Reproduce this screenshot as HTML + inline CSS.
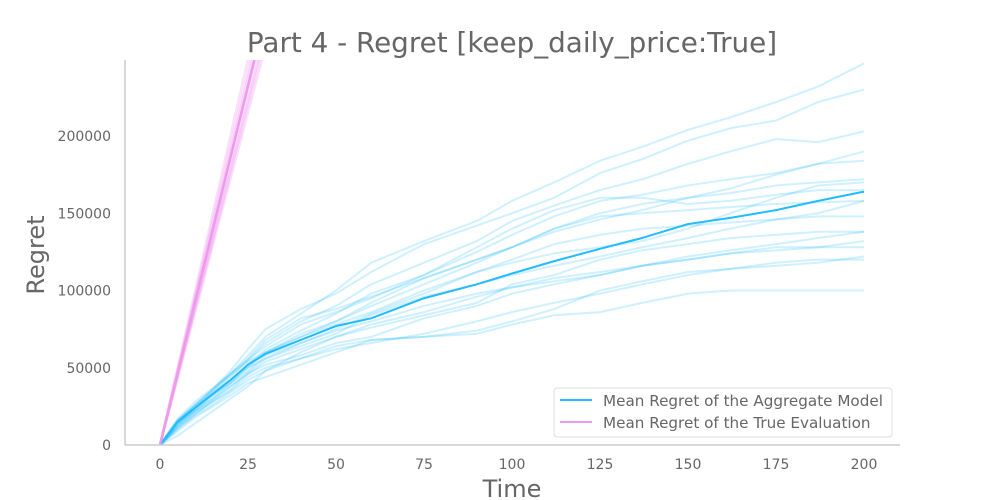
<!DOCTYPE html>
<html><head><meta charset="utf-8"><style>
body{margin:0;background:#fff;}
svg{display:block;font-family:"DejaVu Sans","Liberation Sans",sans-serif;}
</style></head><body>
<svg id="chart" width="1000" height="500">
<defs><clipPath id="clip"><rect x="125" y="60" width="775" height="385"/></clipPath></defs>
<text x="512" y="52" text-anchor="middle" font-size="27.8" fill="#666">Part 4 - Regret [keep_daily_price:True]</text>
<g id="plot" clip-path="url(#clip)"></g>
<line x1="125" y1="60" x2="125" y2="445" stroke="#ccc" stroke-width="1.5"/>
<line x1="125" y1="445" x2="900" y2="445" stroke="#ccc" stroke-width="1.5"/>
<g id="xt"></g><g id="yt"></g>
<text x="512" y="497" text-anchor="middle" font-size="24" fill="#666">Time</text>
<text transform="translate(44,255) rotate(-90)" text-anchor="middle" font-size="24" fill="#666">Regret</text>
<g>
<rect x="554" y="388" width="338" height="49" rx="3" fill="#fff" fill-opacity="0.8" stroke="#ddd"/>
<line x1="560" y1="400" x2="592" y2="400" stroke="#22bbff" stroke-width="2"/>
<text x="603" y="406" font-size="15.2" fill="#666">Mean Regret of the Aggregate Model</text>
<line x1="560" y1="422" x2="592" y2="422" stroke="#ee99ee" stroke-width="2"/>
<text x="603" y="428" font-size="15.2" fill="#666">Mean Regret of the True Evaluation</text>
</g>
</svg>
<script>
const xTicks=[0,25,50,75,100,125,150,175,200];
const yTicks=[0,50000,100000,150000,200000];
const times=[0,5,10,15,20,25,30,40,50,60,75,90,100,112,125,137,150,162,175,187,200];
const meanAgg=[0,15000,24000,33000,42000,52000,59000,68000,77000,82000,95000,104000,111000,119000,127000,134000,143000,147000,152000,158000,164000];
const runs=[
[0,14000,24000,35000,46000,58000,70000,85000,100000,118000,132000,145000,158000,170000,184000,193000,204000,212000,222000,232000,247000],
[0,16000,26000,36000,48000,62000,75000,88000,98000,112000,130000,142000,150000,160000,176000,185000,197000,205000,210000,222000,230000],
[0,15000,25000,34000,44000,55000,66000,80000,90000,104000,118000,132000,145000,155000,165000,172000,182000,190000,198000,196000,203000],
[0,12000,22000,30000,40000,52000,62000,74000,85000,98000,110000,125000,136000,148000,158000,162000,168000,172000,176000,182000,190000],
[0,14000,22000,32000,42000,50000,60000,70000,80000,92000,108000,120000,128000,138000,146000,152000,160000,163000,168000,170000,172000],
[0,17000,28000,37000,46000,55000,64000,78000,86000,95000,110000,128000,140000,152000,160000,160000,156000,158000,162000,165000,165000],
[0,13000,24000,34000,42000,51000,60000,72000,80000,90000,104000,118000,128000,140000,148000,150000,152000,154000,156000,157000,158000],
[0,16000,25000,33000,40000,48000,58000,66000,75000,85000,98000,112000,120000,130000,136000,140000,142000,144000,146000,148000,148000],
[0,11000,20000,28000,36000,46000,52000,58000,66000,70000,82000,90000,98000,104000,110000,116000,122000,126000,130000,134000,138000],
[0,13000,22000,30000,38000,47000,56000,66000,74000,80000,90000,98000,102000,108000,112000,116000,120000,124000,126000,128000,132000],
[0,10000,19000,26000,34000,42000,48000,56000,62000,66000,72000,80000,86000,92000,98000,104000,110000,114000,116000,118000,122000],
[0,9000,18000,25000,32000,40000,44000,52000,60000,68000,70000,74000,80000,88000,100000,106000,112000,114000,118000,120000,120000],
[0,12000,21000,28000,35000,44000,50000,56000,64000,68000,70000,72000,78000,84000,86000,92000,98000,100000,100000,100000,100000],
[0,6000,14000,22000,30000,38000,48000,60000,70000,76000,84000,92000,104000,110000,120000,126000,130000,134000,136000,138000,138000],
[0,15000,26000,36000,46000,56000,68000,82000,88000,96000,108000,120000,128000,140000,150000,156000,160000,166000,175000,182000,184000],
[0,14000,23000,32000,40000,50000,56000,64000,72000,84000,96000,104000,110000,116000,122000,128000,134000,140000,146000,150000,158000],
[0,16000,26000,36000,45000,54000,60000,70000,78000,86000,100000,112000,118000,124000,128000,132000,140000,150000,160000,168000,170000],
[0,11000,20000,29000,38000,46000,54000,62000,70000,78000,86000,96000,102000,106000,110000,116000,120000,124000,128000,128000,128000]
];
const trueTimes=[0,30];
const trueSlopes=[8600,8900,9100,9300,9500,9700,10000,8800];
const meanTrueSlope=9300;
const X=t=>160+(t-0)*3.52;
const Y=v=>445-v*0.001545;
const ns="http://www.w3.org/2000/svg";
const plot=document.getElementById('plot');
function line(ts,vs,color,w,op,name){
  const p=document.createElementNS(ns,'polyline');
  p.setAttribute('points',ts.map((t,i)=>X(t)+','+Y(vs[i])).join(' '));
  p.setAttribute('fill','none');p.setAttribute('stroke',color);
  p.setAttribute('stroke-width',w);p.setAttribute('stroke-opacity',op);
  p.setAttribute('stroke-linejoin','round');
  
  
  plot.appendChild(p);
}
runs.forEach(r=>line(times,r,'#22bbff',2,0.22,'aggregate-run-line'));
trueSlopes.forEach(s=>line(trueTimes,trueTimes.map(t=>t*s),'#ee99ee',2.5,0.3,'true-run-line'));
line(times,meanAgg,'#22bbff',2,1,'mean-aggregate-line');
line(trueTimes,trueTimes.map(t=>t*meanTrueSlope),'#ee99ee',2.5,1,'mean-true-line');
const xt=document.getElementById('xt'),yt=document.getElementById('yt');
xTicks.forEach(t=>{const e=document.createElementNS(ns,'text');e.setAttribute('x',X(t));e.setAttribute('y',469);e.setAttribute('text-anchor','middle');e.setAttribute('font-size','14');e.setAttribute('fill','#666');e.textContent=t;


xt.appendChild(e);});
yTicks.forEach(v=>{const e=document.createElementNS(ns,'text');e.setAttribute('x',111);e.setAttribute('y',Y(v)+5);e.setAttribute('text-anchor','end');e.setAttribute('font-size','14');e.setAttribute('fill','#666');e.textContent=v;


yt.appendChild(e);});
</script>
</body></html>
